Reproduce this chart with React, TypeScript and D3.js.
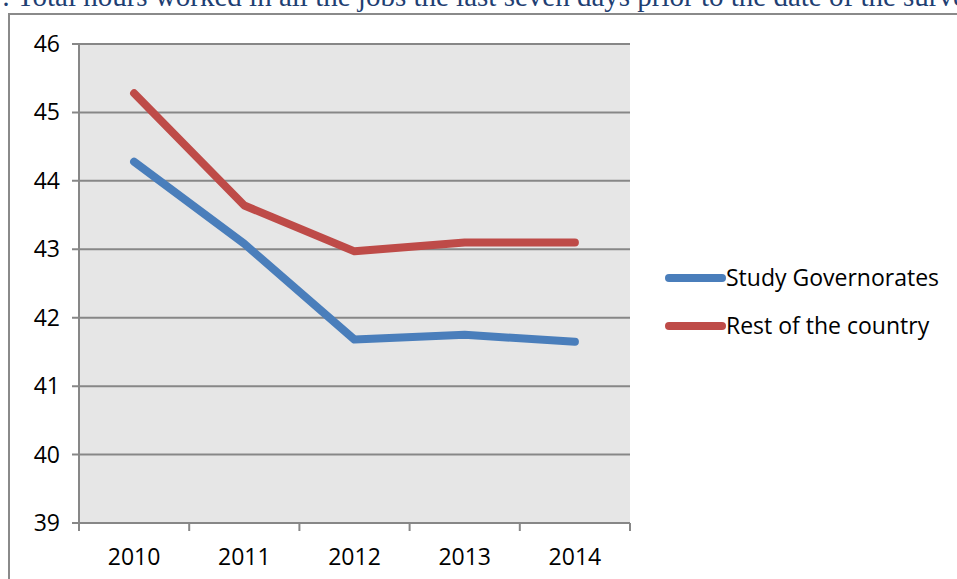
import React from "react";
import * as d3 from "d3";

const categories = ["2010", "2011", "2012", "2013", "2014"];
const studyGovernorates = [44.28, 43.08, 41.68, 41.75, 41.65];
const restOfCountry = [45.28, 43.64, 42.97, 43.1, 43.1];
const yTicks = [39, 40, 41, 42, 43, 44, 45, 46];
const seriesNames = ["Study Governorates", "Rest of the country"];
const seriesColors = ["#4A7EBB", "#BE4B48"];
const titleText = ": Total hours worked in all the jobs the last seven days prior to the date of the survey";

export default function App() {
  const W = 957, H = 579;
  const left = 79, right = 630, top = 44, bottom = 523;
  const x = d3.scaleBand<string>().domain(categories).range([left, right]);
  const y = d3.scaleLinear().domain([39, 46]).range([bottom, top]);
  const line = d3
    .line<number>()
    .x((_, i) => (x(categories[i]) as number) + x.bandwidth() / 2)
    .y((d) => y(d));
  const series = [studyGovernorates, restOfCountry];
  const font = "'Open Sans', sans-serif";
  const fs = 23;
  const boundaries = categories.map((c) => x(c) as number).concat([right]);
  return (
    <svg
      width={W}
      height={H}
      style={{ position: "absolute", left: 0, top: 0, background: "#fff" }}
    >
      <text x={2} y={6} fontFamily="'Liberation Serif', serif" fontSize={29} fill="#1F3F73">
        {titleText}
      </text>
      <rect x={9} y={14} width={W + 10} height={H} fill="#fff" stroke="#8A8A8A" strokeWidth={2} />
      <rect x={left} y={top} width={right - left} height={bottom - top} fill="#E6E6E6" />
      {yTicks.map((t) => (
        <g key={t}>
          <line x1={left - 7} x2={right} y1={y(t)} y2={y(t)} stroke="#878787" strokeWidth={2} />
          <text
            x={60}
            y={y(t)}
            dy="0.35em"
            textAnchor="end"
            fontFamily={font}
            fontSize={fs}
            fill="#000"
          >
            {t}
          </text>
        </g>
      ))}
      <line x1={left} x2={left} y1={top} y2={bottom} stroke="#878787" strokeWidth={2} />
      {boundaries.map((b, i) => (
        <line key={i} x1={b} x2={b} y1={bottom} y2={bottom + 8} stroke="#878787" strokeWidth={2} />
      ))}
      {categories.map((c) => (
        <text
          key={c}
          x={(x(c) as number) + x.bandwidth() / 2}
          y={557}
          dy="0.35em"
          textAnchor="middle"
          fontFamily={font}
          fontSize={fs}
          fill="#000"
        >
          {c}
        </text>
      ))}
      {series.map((s, i) => (
        <path
          key={i}
          d={line(s) || ""}
          fill="none"
          stroke={seriesColors[i]}
          strokeWidth={8}
          strokeLinecap="round"
          strokeLinejoin="round"
        />
      ))}
      {seriesNames.map((n, i) => (
        <g key={n}>
          <line
            x1={669}
            x2={722}
            y1={278 + i * 48}
            y2={278 + i * 48}
            stroke={seriesColors[i]}
            strokeWidth={8}
            strokeLinecap="round"
          />
          <text x={726} y={278 + i * 48} dy="0.35em" fontFamily={font} fontSize={fs} fill="#000">
            {n}
          </text>
        </g>
      ))}
    </svg>
  );
}
